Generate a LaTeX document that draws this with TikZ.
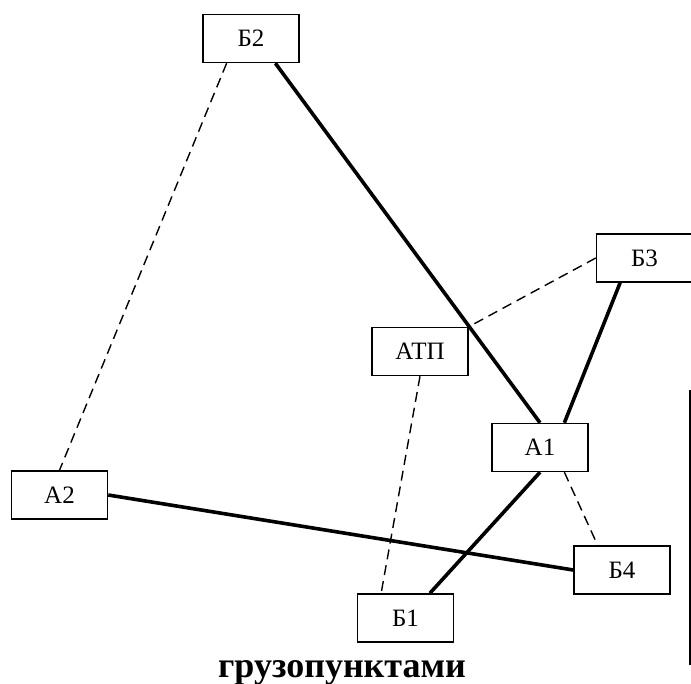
\documentclass[tikz,border=0pt]{standalone}
\usepackage{fontspec}
\setmainfont{Liberation Serif}
\usetikzlibrary{calc}
\begin{document}
\begin{tikzpicture}[x=1pt,y=-1pt,
  pt/.style={draw=black, line width=1.5pt, fill=white, minimum width=96pt,
    minimum height=48pt, inner sep=0pt, font=\fontsize{25}{29}\selectfont},
  route/.style={line width=3.6pt},
  empty/.style={line width=1.4pt, dash pattern=on 10pt off 6pt}]
\useasboundingbox (0,0) rectangle (691,684);

% points of the network
\node[pt] (b2)  at (251,38.5) {Б2};
\node[pt] (atp) at (420,351.5) {АТП};
\node[pt] (a1)  at (540,447.5) {А1};
\node[pt] (a2)  at (59.5,495) {А2};
\node[pt] (b1)  at (405.5,618) {Б1};
\node[pt] (b4)  at (622,570) {Б4};
\node[pt] (b3)  at (644.5,258) {Б3};

% attachment points on the box edges
\coordinate (b2s1) at ($(b2.south west)!.25!(b2.south east)$);
\coordinate (b2s3) at ($(b2.south west)!.75!(b2.south east)$);
\coordinate (b3s1) at ($(b3.south west)!.25!(b3.south east)$);
\coordinate (a1n3) at ($(a1.north west)!.75!(a1.north east)$);
\coordinate (a1s3) at ($(a1.south west)!.75!(a1.south east)$);
\coordinate (b1n1) at ($(b1.north west)!.25!(b1.north east)$);
\coordinate (b1n3) at ($(b1.north west)!.75!(b1.north east)$);
\coordinate (b4n1) at ($(b4.north west)!.25!(b4.north east)$);

% empty runs
\draw[empty] (b2s1) -- (a2.north);
\draw[empty] (b3.west) -- (atp.north east);
\draw[empty] (atp.south) -- (b1n1);
\draw[empty] (a1s3) -- (b4n1);

% loaded runs
\draw[route] (b2s3) -- (a1.north);
\draw[route] (b3s1) -- (a1n3);
\draw[route] (a1.south) -- (b1n3);
\draw[route] (a2.east) -- (b4.west);

% table edge at the right
\draw[line width=2pt] (689.5,390) -- (689.5,665);
\foreach \yy in {391,433,478,523,567,611,664}
  \draw[line width=2pt] (689.5,\yy) -- (695,\yy);

% caption
\node[anchor=base, inner sep=0pt, font=\bfseries\fontsize{36}{42}\selectfont] (cap) at (342,677) {грузопунктами};
\end{tikzpicture}
\end{document}
